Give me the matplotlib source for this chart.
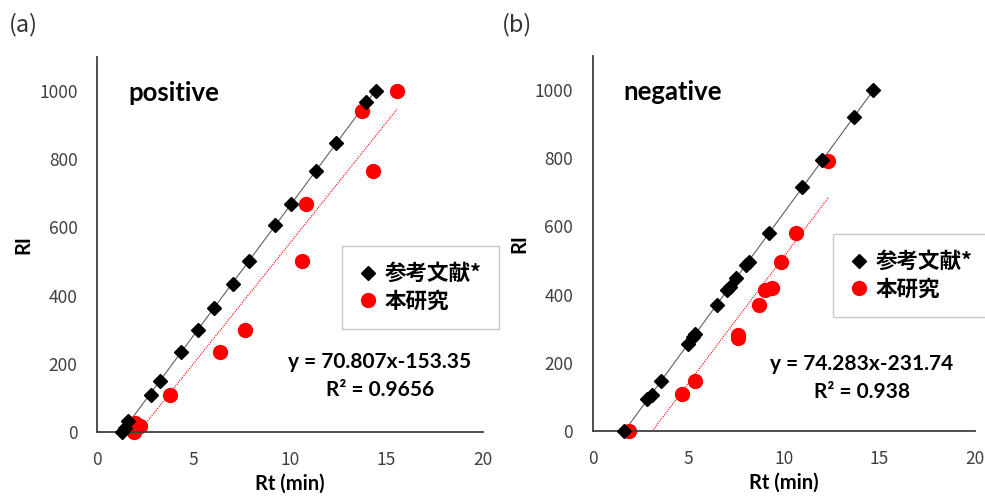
import numpy as np
from matplotlib import pyplot as plt, rcParams

rcParams['font.family'] = ['Lato', 'Noto Sans CJK JP', 'DejaVu Sans']
rcParams['axes.unicode_minus'] = False

# (a) positive
pos_ref_rt = [1.30, 1.47, 1.60, 2.78, 3.24, 4.33, 5.25, 6.06, 7.03, 7.86, 9.24, 10.07, 11.33, 12.40, 13.94, 14.44]
pos_ref_ri = [0, 12, 31, 109, 150, 235, 299, 364, 435, 503, 606, 669, 767, 849, 968, 1000]
pos_our_rt = [1.90, 1.98, 2.21, 3.80, 6.39, 7.68, 10.62, 10.83, 14.30, 13.71, 15.52]
pos_our_ri = [0, 26, 18, 109, 235, 299, 502, 669, 766, 942, 1000]
pos_fit = (70.807, -153.35)
pos_r2 = '0.9656'

# (b) negative
neg_ref_rt = [1.64, 2.86, 3.10, 3.57, 4.97, 5.25, 5.37, 6.49, 7.03, 7.19, 7.52, 8.02, 8.16, 9.24, 10.98, 11.98, 13.67, 14.68]
neg_ref_ri = [0, 93, 107, 147, 254, 276, 284, 371, 413, 422, 448, 487, 496, 581, 715, 795, 920, 1000]
neg_our_rt = [1.92, 4.67, 5.34, 7.60, 7.60, 8.72, 9.03, 9.36, 9.83, 10.62, 12.33]
neg_our_ri = [0, 108, 147, 283, 274, 371, 413, 420, 495, 581, 793]
neg_fit = (74.283, -231.74)
neg_r2 = '0.938'

fig = plt.figure(figsize=(9.85, 4.97), dpi=100)
ax_a = fig.add_axes([0.0985, 0.1308, 0.392, 0.7545])
ax_b = fig.add_axes([0.6017, 0.1328, 0.388, 0.7545])

def draw(ax, ref_x, ref_y, our_x, our_y, fit, r2, title, leg_xy, eq_xy):
    # 参考文献の回帰線（灰色）
    k, b = np.polyfit(ref_x, ref_y, 1)
    xs = np.array([min(ref_x) - 0.1, max(ref_x)])
    ax.plot(xs, k * xs + b, color='#606060', lw=0.8, zorder=1)
    # 本研究の近似直線（赤点線）
    xs = np.array([min(our_x), max(our_x)])
    ax.plot(xs, fit[0] * xs + fit[1], color='red', lw=0.8, ls=(0, (1, 1)), zorder=1)
    ax.plot(ref_x, ref_y, 'D', color='black', ms=7, label='参考文献*', zorder=3, clip_on=False)
    ax.plot(our_x, our_y, 'o', color='red', ms=10, label='本研究', zorder=2, clip_on=False)

    ax.set_xlim(0, 20)
    ax.set_ylim(0, 1100)
    ax.set_xticks([0, 5, 10, 15, 20])
    ax.set_yticks([0, 200, 400, 600, 800, 1000])
    ax.tick_params(length=0, labelsize=12.5, colors='#404040', pad=14)
    for lab in ax.get_xticklabels() + ax.get_yticklabels():
        lab.set_family(['Noto Sans CJK JP'])
    for s in ['top', 'right']:
        ax.spines[s].set_visible(False)
    for s in ['left', 'bottom']:
        ax.spines[s].set_color('#404040')
        ax.spines[s].set_linewidth(1.3)
    ax.set_xlabel('Rt (min)', fontsize=14.5, fontweight='bold', labelpad=3)
    ax.set_ylabel('RI', fontsize=14.5, fontweight='bold', labelpad=4)
    ax.text(0.08, 0.904, title, transform=ax.transAxes, fontsize=18.5, fontweight='bold', va='center')

    eq = 'y = %.3fx-%.2f' % (fit[0], -fit[1])
    ax.text(eq_xy[0], eq_xy[1], eq, transform=fig.transFigure, fontsize=15, fontweight='bold', ha='center', va='center')
    ax.text(eq_xy[0], eq_xy[1] - 0.057, 'R² = ' + r2, transform=fig.transFigure, fontsize=15, fontweight='bold',
            ha='center', va='center')

    leg = ax.legend(loc='upper left', bbox_to_anchor=leg_xy, bbox_transform=fig.transFigure,
                    fancybox=False, edgecolor='#c8c8c8', framealpha=1, borderpad=0.8, borderaxespad=0,
                    handletextpad=0.4, handlelength=0.8, labelspacing=0.3,
                    prop={'family': ['Noto Sans CJK JP'], 'weight': 'bold', 'size': 15.5})
    leg.get_frame().set_linewidth(1.0)
    leg.set_zorder(5)

draw(ax_a, pos_ref_rt, pos_ref_ri, pos_our_rt, pos_our_ri, pos_fit, pos_r2, 'positive',
     (342 / 985, 1 - 246 / 497), (380 / 985, 1 - 362 / 497))
draw(ax_b, neg_ref_rt, neg_ref_ri, neg_our_rt, neg_our_ri, neg_fit, neg_r2, 'negative',
     (833 / 985, 1 - 234 / 497), (862 / 985, 1 - 364 / 497))

fig.text(9 / 985, 1 - 25 / 497, '(a)', fontsize=17, color='#333333', va='center', family=['Noto Sans CJK JP'])
fig.text(502 / 985, 1 - 25 / 497, '(b)', fontsize=17, color='#333333', va='center', family=['Noto Sans CJK JP'])

plt.savefig('out.png', dpi=100)
